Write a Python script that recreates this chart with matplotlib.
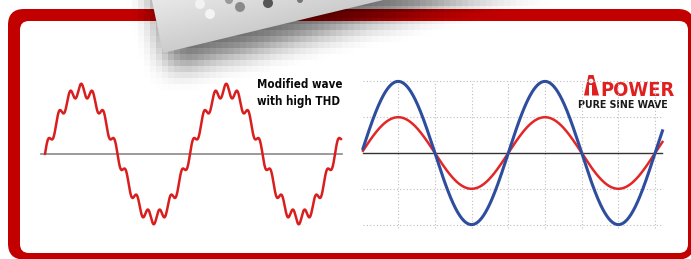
import numpy as np
import matplotlib
matplotlib.use('Agg')
import matplotlib.pyplot as plt
from matplotlib.patches import FancyBboxPatch, Polygon, Circle
from matplotlib.path import Path

# left panel: modified sine wave = fundamental + 13th harmonic ripple
mod_period = 4.0
mod_amp = 1.8
mod_harmonic = 13
mod_ripple = 0.18
mod_span = (0.0, 8.17)
mod_axis_span = (-0.11, 8.2)
mod_label = ['Modified wave', 'with high THD']

# right panel: pure sine waves
sine_period = 4.0
sine_amps = [1.0, 2.0]
sine_colors = ['#e32626', '#2e4d9e']
sine_widths = [1.8, 2.2]
sine_span = (0.04, 8.2)
grid_x = [1, 2, 3, 4, 5, 6, 7, 8]
grid_y = [-2, -1, 1, 2]
brand = 'POWER'
brand_sub = 'PURE SINE WAVE'

W, H = 691, 259
RED = '#c20000'
COND = dict(family='DejaVu Sans', fontstretch='condensed', fontweight='bold')

fig = plt.figure(figsize=(W / 100, H / 100), dpi=100)
bg = fig.add_axes([0, 0, 1, 1])
bg.set_xlim(0, W)
bg.set_ylim(H, 0)
bg.axis('off')

# red rounded frame
bg.add_patch(FancyBboxPatch((8, 9), 686, 250.5, boxstyle='round,pad=0,rounding_size=16',
                            fc=RED, ec='none', zorder=1))
bg.add_patch(FancyBboxPatch((20, 21), 668, 232, boxstyle='round,pad=0,rounding_size=9',
                            fc='white', ec='none', zorder=1))

# card with blocky drop shadow
card = np.array([(133, -90), (163, 53), (757, -90)])
cell = 6
gx = np.arange(-60, 780, cell) + cell / 2
gy = np.arange(-90, 270, cell) + cell / 2
XX, YY = np.meshgrid(gx, gy)
mask = Path(card + np.array([6, 16])).contains_points(
    np.c_[XX.ravel(), YY.ravel()]).reshape(XX.shape).astype(float)


def _blur(a, n, passes):
    k = np.ones(n) / n
    for _ in range(passes):
        a = np.apply_along_axis(lambda r: np.convolve(r, k, mode='same'), 0, a)
        a = np.apply_along_axis(lambda r: np.convolve(r, k, mode='same'), 1, a)
    return a


shade = _blur(mask, 5, 2)
rgba = np.zeros(shade.shape + (4,))
rgba[..., 3] = 0.6 * shade
bg.imshow(rgba, extent=(gx[0] - cell / 2, gx[-1] + cell / 2, gy[-1] + cell / 2, gy[0] - cell / 2),
          origin='upper', interpolation='nearest', aspect='auto', zorder=2)

card_patch = Polygon(card, closed=True, fc='none', ec='none', zorder=3)
bg.add_patch(card_patch)
cx, cy = np.meshgrid(np.linspace(130, 480, 120), np.linspace(-10, 60, 40))
dist = -((cx - 163) * 53 + (cy - 53) * 220) / 226.3
shade_card = 0.80 + 0.10 * np.clip(dist / 50, 0, 1)
im = bg.imshow(shade_card, cmap='gray', vmin=0, vmax=1, extent=(130, 480, 60, -10),
               origin='upper', aspect='auto', zorder=3)
im.set_clip_path(card_patch)
for (x, y, r, c) in [(200, 4, 5, '#f2f2f2'), (210, 14, 5, '#f4f4f4'), (229, 0, 4, '#9a9a9a'),
                     (240, 7, 5, '#8a8a8a'), (268, 3, 5, '#555555'), (300, 0, 3, '#777777')]:
    dot = Circle((x, y), r, fc=c, ec='none', zorder=4)
    bg.add_patch(dot)
    dot.set_clip_path(card_patch)
bg.set_xlim(0, W)
bg.set_ylim(H, 0)

# left caption
bg.text(257, 88, mod_label[0], fontsize=8.3, color='#0a0a0a', zorder=5, **COND)
bg.text(257, 105, mod_label[1], fontsize=8.3, color='#0a0a0a', zorder=5, **COND)

# logo
bg.add_patch(Polygon([(584, 95.5), (588.5, 75), (593.5, 75), (599, 95.5)], closed=True,
                     fc='#e02020', ec='none', zorder=5))
bg.add_patch(Circle((591, 81), 2.3, fc='white', ec='none', zorder=6))
bg.add_patch(Polygon([(589.5, 85), (592.5, 85), (592.5, 95.5), (589.5, 95.5)], closed=True,
                     fc='white', ec='none', zorder=6))
bg.text(600, 95.5, brand, fontsize=14.4, color='#e02020', zorder=5, **COND)
bg.text(578, 108, brand_sub, fontsize=7.6, color='#1a1a1a', zorder=5, **COND)


def add_panel(px0, px1, py0, py1, xorigin, xunit, yorigin, yunit):
    ax = fig.add_axes([px0 / W, 1 - py1 / H, (px1 - px0) / W, (py1 - py0) / H])
    ax.set_xlim((px0 - xorigin) / xunit, (px1 - xorigin) / xunit)
    ax.set_ylim((yorigin - py1) / yunit, (yorigin - py0) / yunit)
    ax.axis('off')
    ax.patch.set_alpha(0)
    return ax


# left: modified wave
axl = add_panel(30, 350, 70, 240, 45, 36.25, 154, 35.5)
axl.plot(mod_axis_span, [0, 0], color='#8a8a8a', lw=1.2)
t = np.linspace(mod_span[0], mod_span[1], 2000)
w = 2 * np.pi * t / mod_period
axl.plot(t, mod_amp * np.sin(w) + mod_ripple * np.sin(mod_harmonic * w),
         color='#d91e1e', lw=1.8, solid_capstyle='round')

# right: pure sine
axr = add_panel(355, 680, 70, 240, 361.5, 36.7, 153, 35.8)
for g in grid_x:
    axr.plot([g, g], [-2.1, 2.0], color='#bdbdbd', lw=0.8, ls=(0, (1, 2)))
for g in grid_y:
    axr.plot(sine_span, [g, g], color='#bdbdbd', lw=0.8, ls=(0, (1, 2)))
axr.plot(sine_span, [0, 0], color='#333333', lw=1.0)
t = np.linspace(sine_span[0], sine_span[1], 1000)
for amp, col, lw in zip(sine_amps, sine_colors, sine_widths):
    axr.plot(t, amp * np.sin(2 * np.pi * t / sine_period), color=col, lw=lw)

fig.savefig('out.png', dpi=100)
